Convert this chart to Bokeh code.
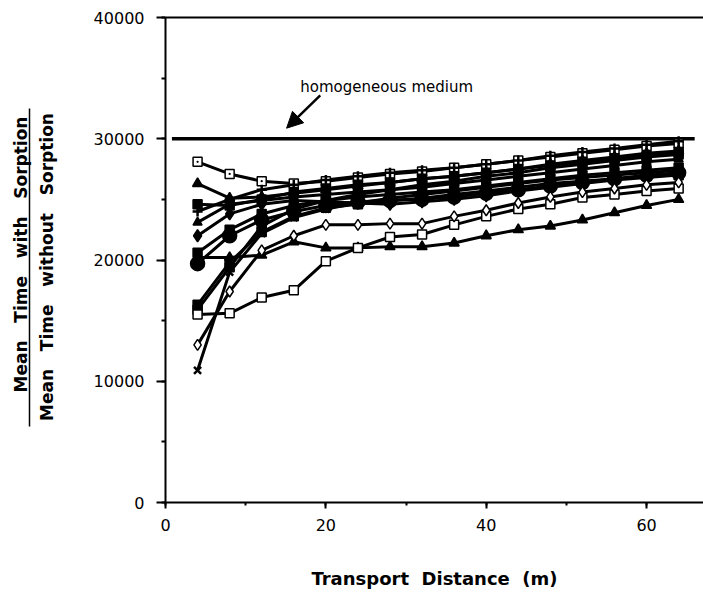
import math
from bokeh.plotting import figure
from bokeh.layouts import row
from bokeh.models import (Range1d, LinearAxis, Label, Arrow, NormalHead,
                          SingleIntervalTicker, FixedTicker)
from bokeh.core.properties import value
from bokeh.embed import file_html
from bokeh.resources import INLINE

# ---------------- data ----------------
distance = [4, 8, 12, 16, 20, 24, 28, 32, 36, 40, 44, 48, 52, 56, 60, 64]

s_open_sq_dot = [28100, 27100, 26500, 26300, 26500, 26800, 27100, 27300, 27600, 27900, 28200, 28500, 28800, 29100, 29400, 29600]
s_plus        = [24000, 25000, 25800, 26200, 26600, 26900, 27200, 27400, 27600, 27900, 28200, 28600, 28900, 29200, 29500, 29800]
s_tri_top     = [26300, 25100, 25200, 25500, 25800, 26100, 26400, 26700, 26900, 27200, 27500, 27900, 28200, 28500, 28800, 29000]
s_sq_top      = [24600, 24500, 25000, 25600, 25900, 26200, 26400, 26700, 26900, 27200, 27500, 27800, 28100, 28400, 28600, 28900]
s_tri_mid     = [23100, 24600, 24900, 25200, 25400, 25600, 25800, 26000, 26300, 26600, 26900, 27200, 27500, 27800, 28100, 28300]
s_dia_fill    = [22000, 23800, 24600, 24900, 24800, 24700, 24600, 24800, 25000, 25300, 25700, 26000, 26300, 26600, 26800, 27000]
s_sq_mid      = [20600, 22500, 23800, 24500, 24900, 25200, 25400, 25600, 25800, 26100, 26400, 26700, 27000, 27200, 27400, 27600]
s_circle      = [19700, 22000, 23300, 24000, 24500, 24800, 24900, 25000, 25200, 25500, 25800, 26100, 26400, 26700, 27000, 27200]
s_tri_low     = [20200, 20200, 20400, 21500, 21000, 21000, 21100, 21100, 21400, 22000, 22500, 22800, 23300, 23900, 24500, 25000]
s_sq_low1     = [16300, 19800, 22300, 23600, 24300, 24600, 24900, 25100, 25400, 25700, 26000, 26300, 26500, 26700, 26900, 27000]
s_sq_low2     = [15900, 19400, 22800, 24200, 24900, 25400, 25800, 26200, 26500, 26900, 27200, 27600, 27900, 28200, 28500, 28700]
s_open_sq     = [15500, 15600, 16900, 17500, 19900, 21000, 21900, 22100, 22900, 23600, 24200, 24600, 25150, 25400, 25700, 25900]
s_open_dia    = [13000, 17400, 20800, 22000, 22900, 22900, 23000, 23000, 23600, 24100, 24700, 25200, 25600, 25900, 26200, 26400]
s_x           = [10900, 19000, 22200, 23500, 24200, 24700, 25100, 25400, 25700, 26000, 26300, 26600, 26800, 27000, 27200, 27400]

homog_x = [0.8, 66.0]
homog_y = [30000, 30000]

NB = "\u00a0"
GAP = NB + NB + " "
x_title = "Transport" + NB + " Distance" + NB + " (m)"
y_title_num = "Mean" + GAP + "Time" + GAP + "with" + GAP + "Sorption"
y_title_den = "Mean" + GAP + "Time" + GAP + "without" + GAP + "Sorption"

FRAME_TOP = 17
FRAME_BOTTOM = 502

# ---------------- left strip with the y title (fraction) ----------------
# its frame is aligned with the main frame (rows 17..502 of the page)
LEFT_W = 62
side = figure(width=LEFT_W, height=598, output_backend="svg", toolbar_location=None,
              x_range=Range1d(0, LEFT_W), y_range=Range1d(FRAME_BOTTOM, FRAME_TOP),
              x_axis_location=None, y_axis_location=None,
              min_border=0, min_border_left=0, min_border_right=0,
              min_border_top=FRAME_TOP, min_border_bottom=598 - FRAME_BOTTOM)
side.grid.visible = False
side.outline_line_color = None
side.text(x=[20], y=[254], text=[y_title_num], angle=math.pi / 2,
          text_font=value("DejaVu Sans"), text_font_style="bold",
          text_font_size="17px", text_align="center", text_baseline="middle",
          text_color="black")
side.text(x=[46.5], y=[266.5], text=[y_title_den], angle=math.pi / 2,
          text_font=value("DejaVu Sans"), text_font_style="bold",
          text_font_size="17px", text_align="center", text_baseline="middle",
          text_color="black")
side.line(x=[29, 29], y=[108, 426], line_width=1.5, color="black")

# ---------------- main figure ----------------
p = figure(width=703 - LEFT_W, height=598, output_backend="svg", toolbar_location=None,
           x_range=Range1d(0, 67.1), y_range=Range1d(0, 40000),
           min_border_left=165 - LEFT_W, min_border_right=0, min_border_top=FRAME_TOP,
           min_border_bottom=598 - FRAME_BOTTOM)
p.outline_line_color = None
p.grid.visible = False

TICK_FONT = "DejaVu Sans"

xa = p.xaxis[0]
xa.ticker = SingleIntervalTicker(interval=20, num_minor_ticks=2)
xa.axis_line_width = 2
xa.major_tick_line_width = 2
xa.minor_tick_line_width = 2
xa.major_tick_out = 6
xa.major_tick_in = 0
xa.minor_tick_out = 3
xa.minor_tick_in = 0
xa.major_label_text_font = TICK_FONT
xa.major_label_text_font_size = "16px"
xa.major_label_text_color = "black"
xa.major_label_standoff = 10

# second bottom axis carrying only the title (centred as in the original)
xt = LinearAxis(bounds=(0, 65.35), ticker=FixedTicker(ticks=[]),
                axis_line_color=None, major_tick_line_color=None,
                minor_tick_line_color=None, major_label_text_font_size="0px",
                axis_label=x_title, axis_label_text_font="DejaVu Sans",
                axis_label_text_font_style="bold", axis_label_text_font_size="18px",
                axis_label_text_color="black", axis_label_standoff=34)
p.add_layout(xt, "below")

ya = p.yaxis[0]
ya.ticker = SingleIntervalTicker(interval=10000, num_minor_ticks=2)
ya.axis_line_width = 2
ya.major_tick_line_width = 2
ya.minor_tick_line_width = 2
ya.major_tick_out = 9
ya.major_tick_in = 0
ya.minor_tick_out = 4
ya.minor_tick_in = 0
ya.major_label_text_font = TICK_FONT
ya.major_label_text_font_size = "16px"
ya.major_label_text_color = "black"
ya.major_label_standoff = 12

# top frame line
top = LinearAxis(ticker=FixedTicker(ticks=[]), major_label_text_font_size="0px",
                 axis_line_width=2, major_tick_line_color=None,
                 minor_tick_line_color=None)
p.add_layout(top, "above")

# homogeneous medium line
p.line(homog_x, homog_y, line_width=3.5, color="black")

series = [
    (s_open_sq_dot, "square_dot", 9, "white"),
    (s_plus, "cross", 10, "black"),
    (s_tri_top, "triangle", 10, "black"),
    (s_sq_top, "square", 9, "black"),
    (s_tri_mid, "triangle", 9, "black"),
    (s_dia_fill, "diamond", 12, "black"),
    (s_sq_mid, "square", 9, "black"),
    (s_circle, "circle", 14, "black"),
    (s_tri_low, "triangle", 10, "black"),
    (s_sq_low1, "square", 9, "black"),
    (s_sq_low2, "square", 9, "black"),
    (s_open_sq, "square", 9, "white"),
    (s_open_dia, "diamond", 11, "white"),
    (s_x, "x", 10, "black"),
]
for vals, mk, sz, fill in series:
    p.line(distance, vals, line_width=3, color="black")
for vals, mk, sz, fill in series:
    lw = 2.5 if mk in ("x", "cross") else 1.5
    p.scatter(distance, vals, marker=mk, size=sz, fill_color=fill,
              line_color="black", line_width=lw)

# annotation
p.add_layout(Label(x=16.8, y=34250, text="homogeneous medium",
                   text_font="DejaVu Sans", text_font_size="15px",
                   text_baseline="middle", text_color="black"))
p.add_layout(Arrow(x_start=19.3, y_start=33570, x_end=15.1, y_end=30870,
                   line_width=2.5, line_color="black",
                   end=NormalHead(size=16, fill_color="black", line_color="black")))

layout = row(side, p, spacing=0)
open("out.html", "w").write(file_html(layout, INLINE))
